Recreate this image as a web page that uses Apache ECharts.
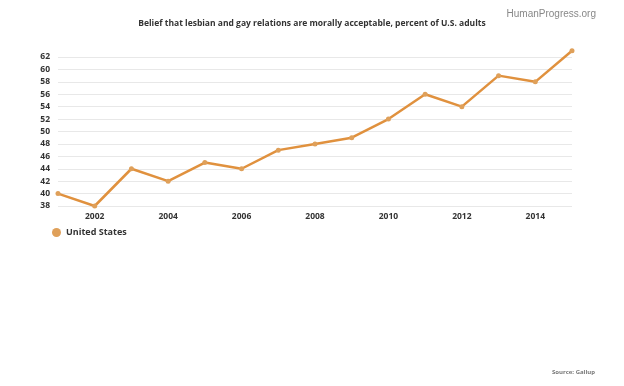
<!DOCTYPE html>
<html><head><meta charset="utf-8">
<script src="https://cdn.jsdelivr.net/npm/echarts@6/dist/echarts.min.js"></script>
<style>html,body{margin:0;padding:0;background:#fff}#c{width:624px;height:386px}</style>
</head><body><div id="c"></div>
<script>
var years = ['2001','2002','2003','2004','2005','2006','2007','2008','2009','2010','2011','2012','2013','2014','2015'];
var usValues = [40,38,44,42,45,44,47,48,49,52,56,54,59,58,63];
var seriesName = 'United States';
var chart = echarts.init(document.getElementById('c'));
chart.setOption({
  backgroundColor: '#fff',
  animation: false,
  title: [
    {text: 'Belief that lesbian and gay relations are morally acceptable, percent of U.S. adults', left: 'center', top: 14,
     textStyle: {fontFamily: 'Open Sans', fontSize: 8.5, fontWeight: 'bold', color: '#333'}},
    {text: 'HumanProgress.org', right: 23, top: 4, textStyle: {fontFamily: 'Liberation Sans', fontSize: 10, fontWeight: 'normal', color: '#888'}},
    {text: 'Source: Gallup', right: 24, bottom: 6, textStyle: {fontFamily: 'Open Sans', fontSize: 6, fontWeight: 'bold', color: '#777'}}
  ],
  legend: {left: 47, top: 223, icon: 'circle', itemWidth: 9, itemHeight: 9, itemGap: 10,
    textStyle: {fontFamily: 'Open Sans', fontSize: 9, fontWeight: 'bold', color: '#333'}, data: [seriesName]},
  grid: {left: 58, right: 52, top: 57, bottom: 180},
  xAxis: {type: 'category', data: years, boundaryGap: false,
    axisLine: {show: false}, axisTick: {show: false},
    axisLabel: {interval: function (i, v) { return Number(v) % 2 === 0; }, margin: 6,
      fontFamily: 'Open Sans', fontSize: 8.5, fontWeight: 'bold', color: '#333'},
    splitLine: {show: false}},
  yAxis: {type: 'value', min: 38, max: 62, interval: 2,
    axisLine: {show: false}, axisTick: {show: false},
    axisLabel: {margin: 8, fontFamily: 'Open Sans', fontSize: 8.5, fontWeight: 'bold', color: '#333'},
    splitLine: {lineStyle: {color: '#e8e8e8', width: 1}}},
  series: [{name: seriesName, type: 'line', data: usValues, clip: false,
    symbol: 'circle', symbolSize: 5, showSymbol: true,
    lineStyle: {color: '#e0913e', width: 2.5},
    itemStyle: {color: '#dfa05a'}}]
});
</script></body></html>
